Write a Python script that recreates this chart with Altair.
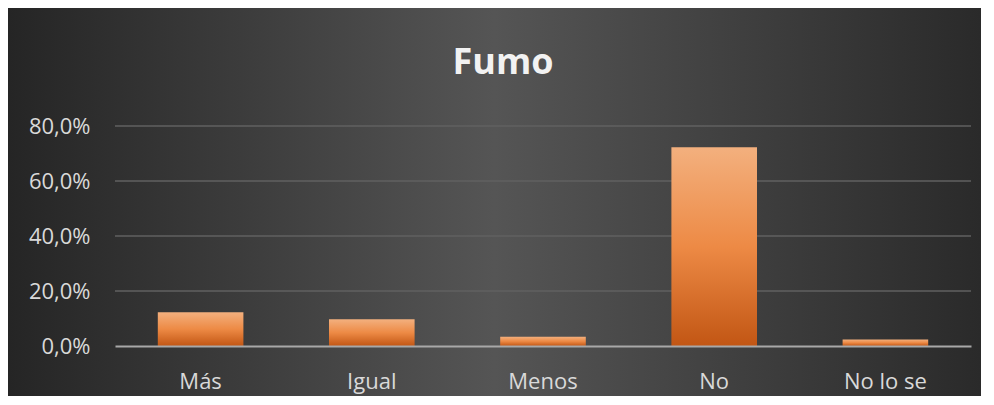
import altair as alt
import pandas as pd

categories = ["Más", "Igual", "Menos", "No", "No lo se"]
values = [12.3, 9.7, 3.4, 72.3, 2.4]
grid_values = [20, 40, 60, 80]
tick_values = [0, 20, 40, 60, 80]

W, H = 856, 220
PAD = {"left": 107, "top": 118, "right": 10, "bottom": 50}

df = pd.DataFrame({"cat": categories, "val": values})
grid_df = pd.DataFrame({"v": grid_values})
bg_df = pd.DataFrame({"a": [0]})

yscale = alt.Scale(domain=[0, 80], nice=False)
yaxis = alt.Axis(
    title=None, values=tick_values, grid=False, domain=False, ticks=False,
    labelColor="#d9d9d9", labelFontSize=22, labelPadding=25,
    labelExpr="replace(format(datum.value, '.1f'), '.', ',') + '%'",
    zindex=1,
)

bg = alt.Chart(bg_df).mark_rect(
    fill=alt.LinearGradient(
        gradient="linear", x1=0, x2=1, y1=0, y2=0,
        stops=[
            alt.GradientStop(offset=0, color="#252525"),
            alt.GradientStop(offset=0.5, color="#555555"),
            alt.GradientStop(offset=1, color="#2a2a2a"),
        ],
    ),
    strokeWidth=0,
).encode(
    x=alt.value(-PAD["left"]),
    x2=alt.value(W + PAD["right"]),
    y=alt.value(-PAD["top"]),
    y2=alt.value(H + PAD["bottom"]),
)

grid = alt.Chart(grid_df).mark_rule(color="#606060", strokeWidth=1.5).encode(
    y=alt.Y("v:Q", scale=yscale, axis=yaxis)
)

bars = alt.Chart(df).mark_bar(
    fill=alt.LinearGradient(
        gradient="linear", x1=0, x2=0, y1=0, y2=1,
        stops=[
            alt.GradientStop(offset=0, color="#f3b07e"),
            alt.GradientStop(offset=0.5, color="#ed8a45"),
            alt.GradientStop(offset=1, color="#c25614"),
        ],
    ),
).encode(
    x=alt.X(
        "cat:N",
        sort=categories,
        scale=alt.Scale(paddingInner=0.5, paddingOuter=0.25),
        axis=alt.Axis(
            title=None, labelAngle=0, ticks=False, domainColor="#a8a8a8",
            domainWidth=2, labelColor="#d9d9d9", labelFontSize=22,
            labelBaseline="alphabetic", labelPadding=42, zindex=1,
        ),
    ),
    y=alt.Y("val:Q", scale=yscale, axis=yaxis),
)

chart = alt.layer(bg, grid, bars).properties(
    width=W,
    height=H,
    title=alt.TitleParams(
        text="Fumo", fontSize=36, fontWeight="bold", color="#f2f2f2",
        anchor="middle", frame="group", dx=-40, offset=-102, baseline="alphabetic",
    ),
    autosize=alt.AutoSizeParams(type="none"),
    padding=PAD,
).configure(
    font="Open Sans",
    background="white",
).configure_view(stroke=None)

chart.save("out.html", embed_options={"renderer": "svg", "actions": False})
